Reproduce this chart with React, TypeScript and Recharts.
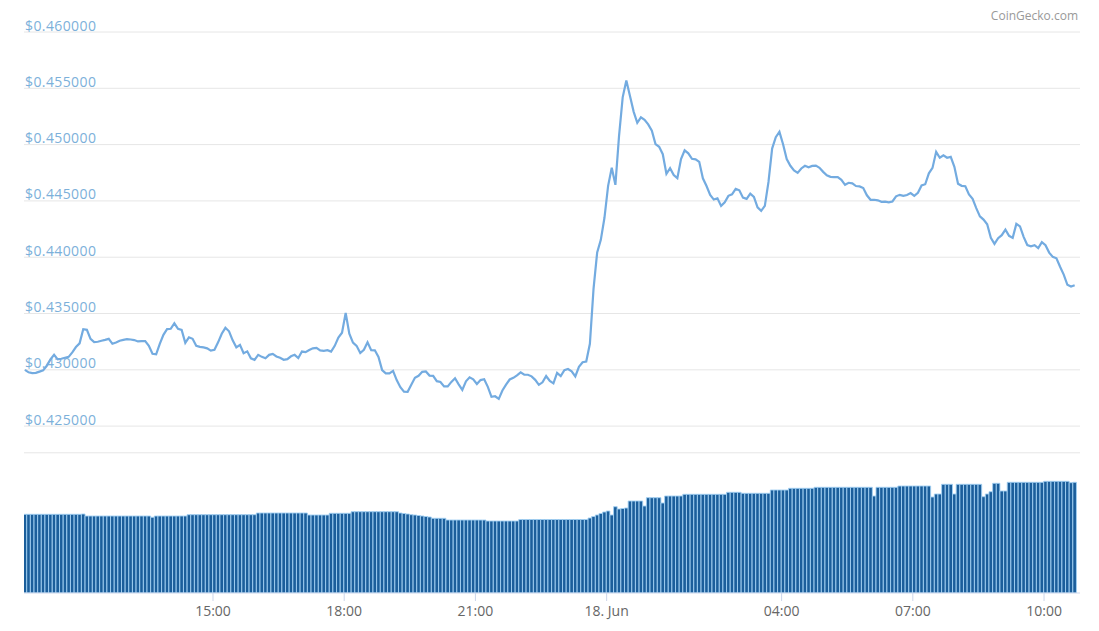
import React from 'react';
import { ComposedChart, Line, Bar, XAxis, YAxis, ReferenceLine } from 'recharts';

// time of first sample (hours, 17 Jun 10:42) and sampling step (5 minutes)
const START_HOUR = 10.7;
const STEP_HOURS = 5 / 60;

// price in USD, one value per 5 minutes
const PRICE: number[] = [
  0.43000, 0.42978, 0.42971, 0.42973, 0.42984, 0.42995, 0.43036, 0.43093, 0.43133, 0.43093,
  0.43098, 0.43107, 0.43115, 0.43155, 0.43202, 0.43235, 0.43361, 0.43355, 0.43275, 0.43247,
  0.43249, 0.43258, 0.43266, 0.43275, 0.43231, 0.43242, 0.43258, 0.43266, 0.43273, 0.43269,
  0.43264, 0.43252, 0.43255, 0.43255, 0.43213, 0.43142, 0.43138, 0.43231, 0.43311, 0.43361,
  0.43364, 0.43413, 0.43364, 0.43355, 0.43240, 0.43289, 0.43275, 0.43213, 0.43204, 0.43199,
  0.43191, 0.43171, 0.43178, 0.43244, 0.43320, 0.43373, 0.43342, 0.43262, 0.43200, 0.43222,
  0.43148, 0.43164, 0.43102, 0.43089, 0.43133, 0.43115, 0.43102, 0.43133, 0.43142, 0.43119,
  0.43107, 0.43089, 0.43095, 0.43120, 0.43133, 0.43105, 0.43162, 0.43157, 0.43176, 0.43191,
  0.43195, 0.43173, 0.43169, 0.43174, 0.43162, 0.43213, 0.43286, 0.43329, 0.43506, 0.43320,
  0.43242, 0.43213, 0.43149, 0.43178, 0.43244, 0.43175, 0.43173, 0.43115, 0.42997, 0.42969,
  0.42969, 0.42991, 0.42909, 0.42846, 0.42806, 0.42805, 0.42867, 0.42929, 0.42947, 0.42982,
  0.42985, 0.42949, 0.42947, 0.42899, 0.42892, 0.42853, 0.42853, 0.42893, 0.42925, 0.42871,
  0.42822, 0.42898, 0.42933, 0.42916, 0.42874, 0.42909, 0.42917, 0.42849, 0.42760, 0.42765,
  0.42742, 0.42816, 0.42869, 0.42914, 0.42929, 0.42951, 0.42978, 0.42956, 0.42956, 0.42942,
  0.42911, 0.42867, 0.42889, 0.42945, 0.42902, 0.42880, 0.42972, 0.42944, 0.42996, 0.43007,
  0.42987, 0.42942, 0.43027, 0.43067, 0.43074, 0.43231, 0.43719, 0.44043, 0.44154, 0.44350,
  0.44634, 0.44794, 0.44643, 0.45078, 0.45420, 0.45569, 0.45431, 0.45293, 0.45194, 0.45242,
  0.45221, 0.45180, 0.45124, 0.45004, 0.44981, 0.44915, 0.44740, 0.44791, 0.44730, 0.44702,
  0.44871, 0.44949, 0.44923, 0.44874, 0.44869, 0.44847, 0.44701, 0.44632, 0.44554, 0.44512,
  0.44523, 0.44456, 0.44487, 0.44545, 0.44558, 0.44607, 0.44594, 0.44529, 0.44518, 0.44565,
  0.44536, 0.44443, 0.44412, 0.44456, 0.44669, 0.44965, 0.45066, 0.45113, 0.45003, 0.44871,
  0.44812, 0.44771, 0.44749, 0.44788, 0.44812, 0.44799, 0.44811, 0.44813, 0.44794, 0.44758,
  0.44728, 0.44714, 0.44711, 0.44711, 0.44687, 0.44643, 0.44661, 0.44656, 0.44632, 0.44629,
  0.44614, 0.44550, 0.44510, 0.44510, 0.44505, 0.44492, 0.44494, 0.44487, 0.44495, 0.44541,
  0.44554, 0.44545, 0.44552, 0.44570, 0.44545, 0.44572, 0.44637, 0.44648, 0.44745, 0.44793,
  0.44936, 0.44883, 0.44905, 0.44883, 0.44891, 0.44803, 0.44652, 0.44634, 0.44630, 0.44558,
  0.44518, 0.44436, 0.44363, 0.44334, 0.44292, 0.44172, 0.44119, 0.44169, 0.44196, 0.44245,
  0.44190, 0.44172, 0.44296, 0.44274, 0.44181, 0.44108, 0.44097, 0.44107, 0.44081, 0.44134,
  0.44107, 0.44041, 0.44003, 0.43990, 0.43915, 0.43846, 0.43755, 0.43740, 0.43751,
];

// 24h trading volume (USD millions), one value per 5 minutes
const VOLUME: number[] = [
  1574, 1574, 1574, 1574, 1574, 1574, 1574, 1574, 1574, 1574, 1574, 1574, 1574, 1574, 1574, 1574, 1580,
  1540, 1540, 1540, 1540, 1540, 1540, 1540, 1540, 1540, 1540, 1540, 1540, 1540, 1540, 1540, 1540, 1540, 1540,
  1514,
  1540, 1540, 1540, 1540, 1540, 1540, 1540, 1540, 1540,
  1566, 1566, 1566, 1566, 1566, 1566, 1566, 1566, 1566, 1566, 1566, 1566, 1566, 1566, 1566, 1566, 1566, 1566, 1566,
  1600, 1600, 1600, 1600, 1600, 1600, 1600, 1600, 1600, 1600, 1600, 1600, 1600, 1600,
  1560, 1560, 1560, 1560, 1560, 1560,
  1594, 1594, 1594, 1594, 1594, 1594,
  1626, 1626, 1626, 1626, 1626, 1626, 1626, 1626, 1626, 1626, 1626, 1626, 1626,
  1600, 1590, 1580, 1566, 1560, 1550, 1540, 1530, 1520,
  1494, 1494, 1494, 1494,
  1460, 1460, 1460, 1460, 1460, 1460, 1460, 1460, 1460, 1460, 1460,
  1440, 1440, 1440, 1440, 1440, 1440, 1440, 1440, 1440,
  1470, 1470, 1470, 1470, 1470, 1470, 1470, 1470, 1470, 1470, 1470, 1470, 1470, 1470, 1470, 1470, 1470, 1470, 1470,
  1500, 1530, 1560, 1590, 1620, 1640,
  1560, 1726, 1680, 1690, 1700,
  1840, 1840, 1840, 1840, 1740,
  1906, 1906, 1906, 1906, 1800,
  1940, 1940, 1940, 1940, 1940,
  1974, 1974, 1974, 1974, 1974, 1974, 1974, 1974, 1974, 1974, 1974, 1974,
  2014, 2014, 2014, 2014,
  1994, 1994, 1994, 1994, 1994, 1994, 1994, 1994,
  2060, 2060, 2060, 2060, 2060,
  2094, 2094, 2094, 2094, 2094, 2094, 2094,
  2114, 2114, 2114, 2114, 2114, 2114, 2114, 2114, 2114, 2114, 2114, 2114, 2114, 2114, 2114, 2114,
  1940,
  2114, 2114, 2114, 2114, 2114, 2114,
  2140, 2140, 2140, 2140, 2140, 2140, 2140, 2140, 2140,
  1920, 1980, 1980,
  2174, 2174, 2174,
  1980,
  2174, 2174, 2174, 2174, 2174, 2174, 2174,
  1926, 1980, 2026,
  2194, 2194,
  2040, 2040,
  2214, 2214, 2214, 2214, 2214, 2214, 2214, 2214, 2214, 2214,
  2234, 2234, 2234, 2234, 2234, 2234, 2234,
  2206, 2214,
];

// x-axis tick positions (hours since 17 Jun 00:00) and price tick values
const X_TICKS = [15, 18, 21, 24, 28, 31, 34];
const DATE_LABEL = '18. Jun';
const Y_TICKS = [0.425, 0.43, 0.435, 0.44, 0.445, 0.45, 0.455, 0.46];
const PANE_SPLIT = 0.42263;
const CREDIT = 'CoinGecko.com';

const data = PRICE.map((p, i) => ({
  t: START_HOUR + i * STEP_HOURS,
  price: p,
  volume: VOLUME[i],
}));

const fmtX = (t: number) => (t === 24 ? DATE_LABEL : `${String(t % 24).padStart(2, '0')}:00`);
const fmtY = (v: number) => `$${v.toFixed(6)}`;

const makeYLabel = (v: number) => (props: any) => {
  const vb = props.viewBox || {};
  return (
    <text
      x={(vb.x ?? 0) + 1}
      y={(vb.y ?? 0) - 1.5}
      fill="#7cb0da"
      fontSize={14}
      fontFamily="Open Sans"
      letterSpacing={0.4}
      textAnchor="start"
    >
      {fmtY(v)}
    </text>
  );
};

export default function App() {
  return (
    <div style={{ position: 'absolute', left: 0, top: 0, width: 1099, height: 631, background: '#fff' }}>
      <ComposedChart
        width={1099}
        height={631}
        data={data}
        margin={{ top: 32, right: 19, left: 24, bottom: 8 }}
      >
        <XAxis
          dataKey="t"
          type="number"
          domain={[10.679, 34.822]}
          ticks={X_TICKS}
          tickFormatter={fmtX}
          height={30}
          tickSize={8}
          tickMargin={5}
          axisLine={{ stroke: '#ccd6eb' }}
          tickLine={{ stroke: '#ccd6eb' }}
          tick={{ fill: '#666', fontSize: 14, fontFamily: 'Open Sans' }}
          allowDataOverflow
        />
        <YAxis yAxisId="price" type="number" domain={[0.41018, 0.46]} ticks={Y_TICKS} hide allowDataOverflow />
        <YAxis yAxisId="vol" type="number" domain={[0, 11220]} hide allowDataOverflow />
        {Y_TICKS.map((v) => (
          <ReferenceLine
            key={v}
            yAxisId="price"
            y={v}
            stroke="#e6e6e6"
            strokeWidth={1}
            label={makeYLabel(v)}
          />
        ))}
        <ReferenceLine yAxisId="price" y={PANE_SPLIT} stroke="#e6e6e6" strokeWidth={1} />
        <Bar
          yAxisId="vol"
          dataKey="volume"
          barSize={3.6}
          fill="#1b5e9b"
          stroke="#a3d0f3"
          strokeWidth={0.9}
          isAnimationActive={false}
        />
        <Line
          yAxisId="price"
          dataKey="price"
          type="linear"
          stroke="#73abe0"
          strokeWidth={2.2}
          dot={false}
          activeDot={false}
          isAnimationActive={false}
        />
      </ComposedChart>
      <div
        style={{
          position: 'absolute',
          top: 9,
          right: 21,
          fontSize: 12,
          lineHeight: '14px',
          color: '#999',
          fontFamily: 'Open Sans',
        }}
      >
        {CREDIT}
      </div>
    </div>
  );
}
